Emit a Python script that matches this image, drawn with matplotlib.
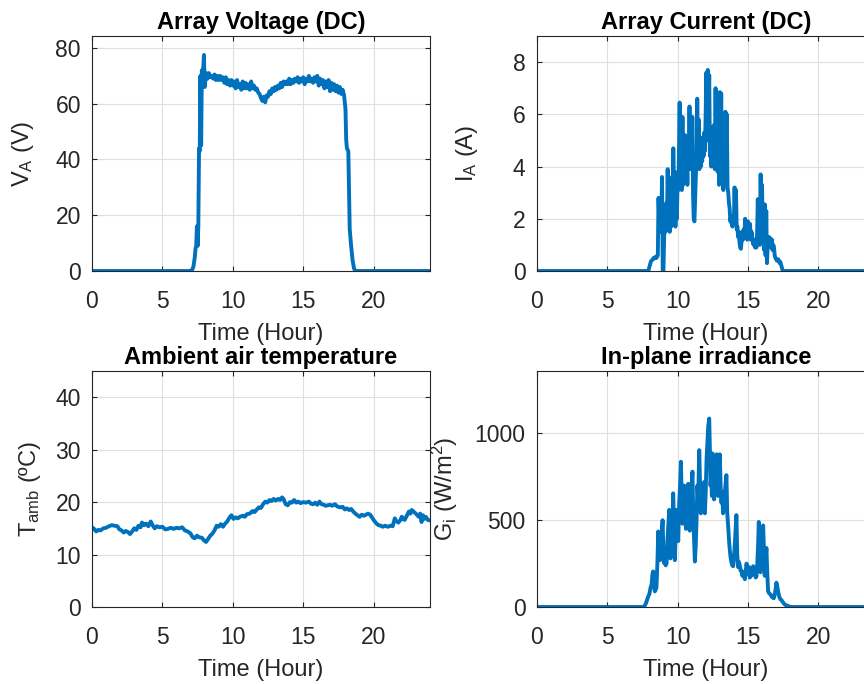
import numpy as np
import matplotlib
matplotlib.use("Agg")
import matplotlib.pyplot as plt

plt.rcParams['font.family'] = ['Liberation Sans', 'DejaVu Sans']
plt.rcParams['mathtext.default'] = 'regular'

# ---------------- data ----------------
volt_hours = [0, 7.0, 7.1, 7.2, 7.3, 7.35, 7.4, 7.45, 7.5, 7.55, 7.6, 7.65, 7.7, 7.75,
              7.8, 7.85, 7.9, 7.95, 8.0,
              8.1, 8.2, 8.3, 8.4, 8.5, 8.6, 8.7, 8.8, 8.9, 9.0,
              9.1, 9.2, 9.3, 9.4, 9.5, 9.6, 9.7, 9.8, 9.9, 10.0,
              10.1, 10.2, 10.3, 10.4, 10.5, 10.6, 10.7, 10.8, 10.9, 11.0,
              11.1, 11.2, 11.3, 11.4, 11.5, 11.6, 11.7, 11.8, 11.9, 12.0,
              12.1, 12.2, 12.3, 12.4, 12.5, 12.6, 12.7, 12.8, 12.9, 13.0,
              13.1, 13.2, 13.3, 13.4, 13.5, 13.6, 13.7, 13.8, 13.9, 14.0,
              14.1, 14.2, 14.3, 14.4, 14.5, 14.6, 14.7, 14.8, 14.9, 15.0,
              15.1, 15.2, 15.3, 15.4, 15.5, 15.6, 15.7, 15.8, 15.9, 16.0,
              16.1, 16.2, 16.3, 16.4, 16.5, 16.6, 16.7, 16.8, 16.9, 17.0,
              17.1, 17.2, 17.3, 17.4, 17.5, 17.6, 17.7, 17.8, 17.9, 18.0,
              18.05, 18.1, 18.2, 18.3, 18.4, 18.5, 18.6, 18.7, 24.0]
volt_values = [0, 0, 0.3, 1.5, 5, 8, 9, 16, 9, 16, 44, 43, 70, 45,
               72, 68, 73, 77.5, 66,
               71, 69, 71, 69.5, 70, 69, 70.5, 68.5, 70, 68.5,
               70, 68.5, 69.5, 67.5, 69.5, 67, 68.5, 66.5, 68.5, 66.5,
               68, 65.5, 68.5, 66, 67, 65, 68, 65.5, 67.5, 65.5,
               67, 65, 68, 65.5, 66.5, 65, 65.5, 64, 63.5, 62,
               61, 62.5, 60.5, 63, 62.5, 64.5, 63.5, 65.5, 64.5, 66,
               65, 66.5, 65.5, 67.5, 66, 68, 67, 68, 67, 69,
               67, 68.5, 67.5, 69, 68, 69.5, 67.5, 69, 68, 69.5,
               67, 69, 68, 70, 68, 69, 67.5, 69.5, 68, 70,
               66.5, 69, 67, 68.5, 65.5, 68, 66, 68.5, 64.5, 67.5,
               65, 67, 64.5, 66.5, 64, 66, 63.5, 65, 63, 58,
               47, 44, 43, 15, 9, 4, 1, 0, 0]

cur_start = 7.90   # first sample hour, samples every 0.05 h
cur_step = 0.05
cur_values = [0, 0.05, 0.15, 0.25, 0.35, 0.4, 0.42, 0.45, 0.5, 0.48,
              0.5, 0.55, 0.5, 0.55, 0.6, 2.8, 1.9, 1.5, 2.4, 2.0,
              3.6, 0.0, 0.0, 1.3, 2.3, 1.5, 2.6, 1.8, 3.9, 2.0,
              3.6, 1.5, 2.4, 1.7, 3.2, 2.2, 4.7, 2.8, 3.8, 1.7,
              3.5, 2.0, 3.3, 3.1, 4.5, 6.45, 3.4, 5.0, 3.1, 5.9,
              3.3, 4.8, 3.6, 5.2, 3.4, 4.3, 3.3, 5.0, 4.1, 6.3,
              3.9, 4.6, 4.0, 5.9, 3.0, 2.0, 1.9, 2.8, 3.6, 4.5,
              6.6, 4.2, 5.8, 3.9, 4.5, 4.0, 5.1, 4.2, 4.8, 4.4,
              5.3, 4.6, 6.1, 7.6, 5.0, 7.7, 6.2, 7.5, 4.4, 5.2,
              4.0, 5.5, 4.6, 4.0, 5.6, 3.9, 7.0, 4.5, 6.8, 3.8,
              5.9, 3.3, 6.85, 4.2, 6.8, 3.6, 5.5, 3.1, 4.6, 3.9,
              6.1, 4.0, 6.0, 3.2, 3.0, 2.6, 2.4, 1.9, 2.1, 1.8,
              1.7, 1.9, 1.8, 3.2, 2.0, 3.1, 1.6, 1.7, 1.3, 1.5,
              1.1, 0.9, 0.85, 1.2, 1.5, 1.2, 1.6, 1.3, 2.0, 1.3,
              1.6, 1.2, 1.9, 1.4, 1.3, 1.8, 1.2, 1.5, 1.3, 1.1,
              1.0, 1.2, 0.9, 1.1, 0.9, 1.4, 2.75, 1.3, 2.7, 1.0,
              3.7, 2.0, 3.3, 1.5, 1.9, 0.8, 2.55, 0.6, 2.3, 0.3,
              0.9, 1.1, 1.3, 1.0, 1.25, 0.9, 1.2, 0.8, 1.0, 0.9,
              0.6, 0.5, 0.45, 0.4, 0.4, 0.45, 0.4, 0.3, 0.35, 0.25,
              0.15, 0.05, 0]

temp_hours = [0.0, 0.15, 0.3, 0.45, 0.6, 0.8, 1.0, 1.2, 1.4, 1.6, 1.8, 1.95, 2.1, 2.25,
              2.4, 2.55, 2.7, 2.85, 3.0, 3.15, 3.3, 3.45, 3.55, 3.7, 3.85, 4.0, 4.17,
              4.3, 4.45, 4.6, 4.8, 5.0, 5.2, 5.4, 5.6, 5.8, 6.0, 6.2, 6.4, 6.6, 6.8,
              7.0, 7.15, 7.3, 7.45, 7.6, 7.8, 7.95, 8.1, 8.25, 8.4, 8.55, 8.7, 8.85,
              9.0, 9.15, 9.3, 9.45, 9.6, 9.75, 9.9, 10.05, 10.2, 10.35, 10.5, 10.7,
              10.85, 11.0, 11.2, 11.4, 11.55, 11.7, 11.85, 12.0, 12.15, 12.3, 12.45,
              12.6, 12.75, 12.9, 13.05, 13.2, 13.35, 13.5, 13.6, 13.75, 13.9, 14.05,
              14.2, 14.35, 14.5, 14.65, 14.8, 15.0, 15.2, 15.4, 15.55, 15.7, 15.85,
              16.0, 16.15, 16.3, 16.45, 16.6, 16.75, 16.9, 17.05, 17.25, 17.4, 17.6,
              17.8, 17.95, 18.1, 18.25, 18.4, 18.55, 18.7, 18.85, 19.0, 19.15, 19.3,
              19.45, 19.6, 19.75, 19.9, 20.05, 20.2, 20.35, 20.5, 20.65, 20.8, 21.0,
              21.2, 21.35, 21.5, 21.6, 21.75, 21.9, 22.0, 22.1, 22.2, 22.35, 22.5,
              22.6, 22.7, 22.8, 22.9, 23.0, 23.1, 23.2, 23.3, 23.4, 23.5, 23.6, 23.7,
              23.85, 24.0]
temp_values = [15.2, 14.9, 14.4, 14.7, 14.6, 15.0, 15.1, 15.4, 15.6, 15.5, 15.4, 14.8, 14.6, 14.2,
               14.5, 14.3, 13.9, 14.4, 15.0, 14.7, 15.5, 15.2, 16.1, 15.6, 15.9, 15.4, 16.3,
               15.6, 15.0, 15.4, 15.2, 15.3, 14.8, 14.9, 15.1, 14.9, 15.1, 15.0, 15.2, 14.6, 14.4,
               14.0, 13.3, 13.1, 13.6, 13.3, 13.2, 12.7, 12.4, 13.0, 13.6, 14.0, 14.6, 15.5,
               15.3, 15.8, 15.3, 15.9, 16.3, 17.0, 17.5, 16.8, 17.1, 16.9, 17.2, 17.4,
               17.2, 17.7, 17.8, 18.3, 18.1, 18.6, 19.0, 18.9, 19.6, 20.1, 19.9,
               20.4, 20.2, 20.6, 20.3, 20.6, 20.4, 20.9, 20.6, 19.6, 19.4, 20.0,
               19.9, 20.4, 19.9, 20.1, 19.8, 20.0, 19.9, 20.1, 19.7, 19.6, 19.9,
               19.5, 20.1, 19.6, 19.5, 19.3, 19.4, 19.5, 19.3, 19.6, 19.2, 19.0,
               19.1, 18.6, 18.8, 18.5, 18.7, 18.2, 17.8, 17.5, 17.2, 17.6, 17.4,
               17.6, 17.8, 17.6, 17.0, 16.4, 15.9, 15.6, 15.5, 15.3, 15.5, 15.3,
               15.5, 15.4, 16.9, 16.4, 16.1, 16.6, 17.2, 16.8, 16.6, 17.4, 18.2,
               17.8, 18.5, 18.3, 18.0, 17.8, 17.5, 17.2, 17.8, 16.2, 17.5, 16.8, 17.2,
               16.6, 16.5]

irr_hours = [0, 7.55, 7.65, 7.75, 7.85, 7.92, 8.00, 8.08, 8.16, 8.22, 8.27, 8.33, 8.39,
             8.45, 8.50, 8.57, 8.63, 8.68, 8.75, 8.82, 8.88, 8.94, 9.00, 9.03, 9.10,
             9.16, 9.22, 9.28, 9.35, 9.41, 9.46, 9.50, 9.55, 9.60, 9.65, 9.69, 9.75,
             9.81, 9.87, 9.93, 9.99, 10.05, 10.12, 10.18, 10.24, 10.30, 10.35, 10.41,
             10.47, 10.53, 10.60, 10.65, 10.70, 10.76, 10.82, 10.87, 10.93, 11.00,
             11.06, 11.12, 11.18, 11.23, 11.29, 11.35, 11.41, 11.47, 11.54, 11.60,
             11.65, 11.70, 11.76, 11.82, 11.88, 11.94, 12.00, 12.06, 12.12, 12.18,
             12.25, 12.30, 12.34, 12.40, 12.44, 12.48, 12.54, 12.60, 12.66, 12.72,
             12.77, 12.83, 12.88, 12.94, 13.00, 13.06, 13.12, 13.18, 13.23, 13.28,
             13.34, 13.40, 13.47, 13.53, 13.60, 13.66, 13.71, 13.76, 13.82, 13.88,
             13.95, 14.02, 14.08, 14.13, 14.18, 14.24, 14.30, 14.36, 14.42, 14.48,
             14.54, 14.60, 14.66, 14.72, 14.78, 14.84, 14.90, 14.96, 15.02, 15.08,
             15.13, 15.19, 15.25, 15.31, 15.37, 15.43, 15.49, 15.55, 15.60, 15.66,
             15.72, 15.77, 15.83, 15.89, 15.95, 16.02, 16.08, 16.14, 16.19, 16.25,
             16.31, 16.37, 16.43, 16.50, 16.57, 16.63, 16.67, 16.75, 16.83, 16.90,
             16.96, 17.02, 17.08, 17.14, 17.22, 17.30, 17.38, 17.46, 17.55, 17.65,
             17.73, 17.85, 18.00, 18.10, 24.0]
irr_values = [0, 0, 5, 20, 45, 61, 75, 110, 130, 190, 205, 120, 90,
              100, 110, 250, 435, 330, 270, 380, 430, 500, 300, 255, 270,
              240, 250, 380, 480, 560, 400, 280, 350, 500, 480, 655, 450,
              270, 430, 560, 470, 380, 600, 700, 837, 620, 480, 620,
              700, 540, 450, 600, 680, 710, 560, 440, 620, 700,
              780, 500, 380, 262, 350, 500, 700, 620, 904, 700,
              540, 560, 680, 620, 720, 540, 660, 850, 950, 1040,
              1086, 900, 700, 750, 640, 885, 700, 620, 800, 680,
              880, 700, 640, 760, 880, 700, 600, 660, 540, 560,
              640, 700, 760, 540, 460, 380, 330, 290, 260, 240,
              235, 300, 380, 460, 530, 300, 230, 260, 240, 210,
              210, 180, 200, 180, 160, 200, 250, 210, 190, 230,
              170, 200, 180, 210, 235, 190, 200, 170, 175, 250,
              350, 490, 300, 200, 300, 400, 470, 300, 180, 260,
              340, 200, 90, 80, 75, 70, 60, 55, 50, 70,
              100, 140, 120, 90, 60, 45, 40, 30, 20, 12,
              10, 5, 2, 0, 0]

titles = ["Array Voltage (DC)", "Array Current (DC)",
          "Ambient air temperature", "In-plane irradiance"]
ylabels = ["V$_A$ (V)", "I$_A$ (A)", "T$_{amb}$ (\u00baC)", "G$_i$ (W/m$^2$)"]
xlabel_text = "Time (Hour)"
yticks_list = [[0, 20, 40, 60, 80], [0, 2, 4, 6, 8],
               [0, 10, 20, 30, 40], [0, 500, 1000]]
ylims = [(0, 84.3), (0, 9), (0, 45), (0, 1360)]
xticks = [0, 5, 10, 15, 20]

# ---------------- figure ----------------
cur_hours = [0.0] + [cur_start + cur_step * i for i in range(len(cur_values))] + [24.0]
cur_vals_full = [0.0] + cur_values + [0.0]

series = [(volt_hours, volt_values), (cur_hours, cur_vals_full),
          (temp_hours, temp_values), (irr_hours, irr_values)]

W, H = 864, 684
fig = plt.figure(figsize=(W / 100, H / 100), dpi=100)

ax_w = 338 / W
positions = [
    (92 / W, 1 - 271 / H, ax_w, 235 / H),
    (536.7 / W, 1 - 271 / H, ax_w, 235 / H),
    (92 / W, 1 - 607 / H, ax_w, 236 / H),
    (536.7 / W, 1 - 607 / H, ax_w, 236 / H),
]
label_x = [-0.166, -0.168, -0.145, -0.227]

dark = '#262626'
blue = '#0072BD'
for i, ax_pos in enumerate(positions):
    ax = fig.add_axes(ax_pos)
    hx, hy = series[i]
    ax.plot(hx, hy, color=blue, linewidth=2.8, solid_joinstyle='round')
    ax.set_xlim(0, 24)
    ax.set_ylim(*ylims[i])
    ax.set_xticks(xticks)
    ax.set_yticks(yticks_list[i])
    ax.grid(True, color='#dfdfdf', linewidth=0.8)
    ax.set_axisbelow(True)
    for s in ax.spines.values():
        s.set_color(dark)
        s.set_linewidth(0.8)
    ax.tick_params(direction='in', length=3.5, width=0.8, colors=dark,
                   labelsize=16.5, top=True, right=True)
    ax.tick_params(axis='x', pad=14)
    ax.tick_params(axis='y', pad=8)
    ax.set_title(titles[i], fontsize=17, fontweight='bold', color='black', pad=5)
    ax.set_xlabel(xlabel_text, fontsize=17, color=dark, labelpad=7)
    ax.set_ylabel(ylabels[i], fontsize=17, color=dark)
    ax.yaxis.set_label_coords(label_x[i], 0.5)

fig.savefig("out.png", dpi=100)
